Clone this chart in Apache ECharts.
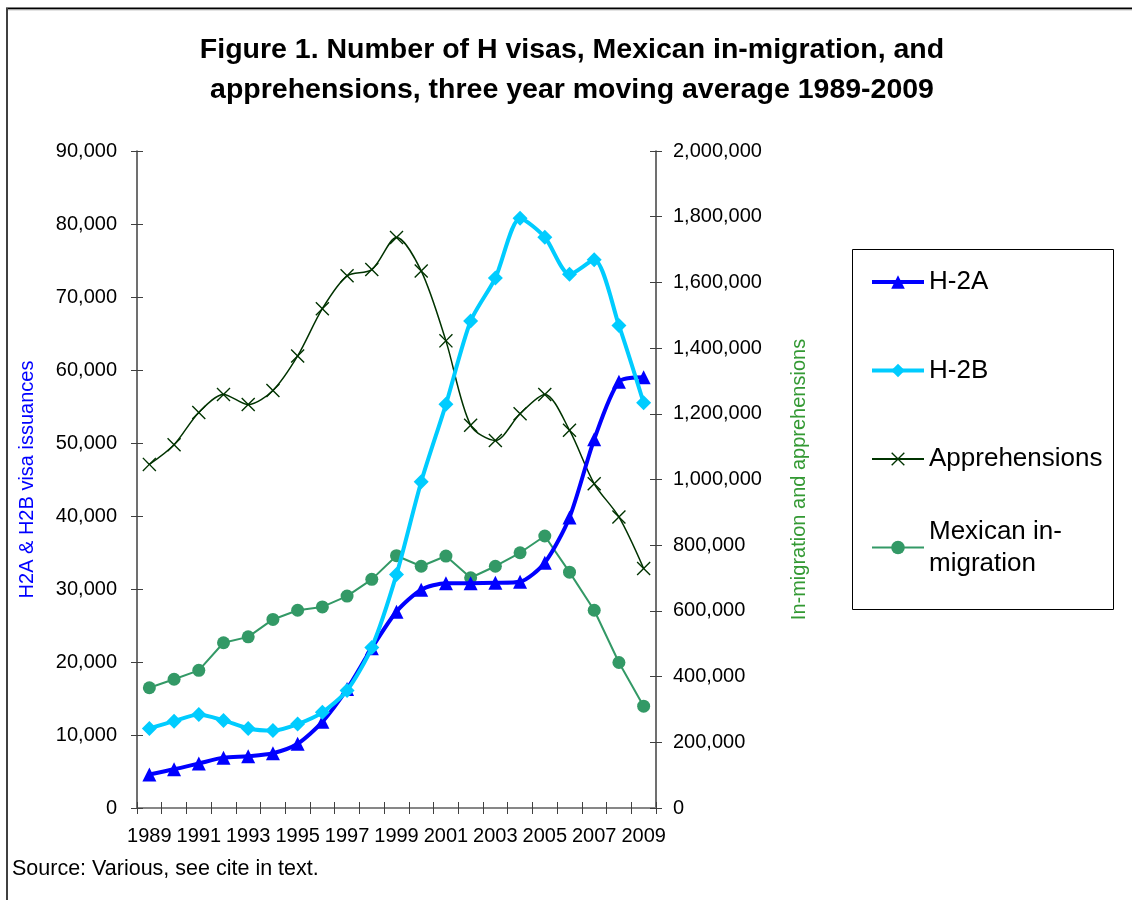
<!DOCTYPE html>
<html>
<head>
<meta charset="utf-8">
<script src="https://cdn.jsdelivr.net/npm/echarts@6/dist/echarts.min.js"></script>
<style>html,body{margin:0;padding:0;background:#fff}#c{width:1132px;height:900px}</style>
</head>
<body>
<div id="c"></div>
<script>
const years = ['1989','1990','1991','1992','1993','1994','1995','1996','1997','1998','1999','2000','2001','2002','2003','2004','2005','2006','2007','2008','2009'];
const h2a = [4600, 5300, 6100, 6900, 7100, 7500, 8800, 11800, 16300, 21900, 26900, 29900, 30800, 30800, 30850, 31000, 33600, 39800, 50500, 58400, 59000];
const h2b = [10900, 11900, 12800, 12000, 10900, 10600, 11500, 13100, 16100, 22000, 32000, 44700, 55300, 66700, 72600, 80800, 78200, 73100, 75100, 66100, 55500];
const apprehensions = [1046000, 1106000, 1204000, 1259000, 1228000, 1271000, 1376000, 1520000, 1620000, 1639000, 1737000, 1635000, 1422000, 1165000, 1119000, 1200000, 1259000, 1150000, 987000, 886000, 729000];
const mexican = [366000, 392000, 419000, 503000, 521000, 574000, 602000, 612000, 645000, 696000, 768000, 736000, 767000, 701000, 736000, 777000, 828000, 718000, 602000, 443000, 310000];
const titleLines = ['Figure 1. Number of H visas, Mexican in-migration, and', 'apprehensions, three year moving average 1989-2009'];

const FONT = "'Liberation Sans', Arial, sans-serif";
const xPath = 'path://M0,7L7,0L50,43L93,0L100,7L57,50L100,93L93,100L50,57L7,100L0,93L43,50Z';
const fmt = v => v.toLocaleString('en-US');

const chart = echarts.init(document.getElementById('c'), null, {renderer: 'canvas'});
const axisLineStyle = {color: '#404040', width: 1.5};
chart.setOption({
  animation: false,
  backgroundColor: '#fff',
  textStyle: {fontFamily: FONT},
  title: {
    text: titleLines.join('\n'),
    left: 572, top: 30, padding: 0, textAlign: 'center',
    textStyle: {fontSize: 28.5, fontWeight: 'bold', color: '#000', lineHeight: 40, fontFamily: FONT}
  },
  legend: {
    orient: 'vertical', left: 870, top: 234, padding: 0, itemGap: -7.5,
    itemWidth: 52, itemHeight: 17, selectedMode: false,
    textStyle: {fontSize: 26, color: '#000', lineHeight: 32, padding: [32, 0, 32, 0], fontFamily: FONT},
    data: [
      {name: 'H-2A', lineStyle: {width: 4}},
      {name: 'H-2B', lineStyle: {width: 4}},
      {name: 'Apprehensions', lineStyle: {width: 2}},
      {name: 'Mexican in-\nmigration', lineStyle: {width: 2}, textStyle: {padding: [32, 0, 0, 0], lineHeight: 32, fontSize: 26}}
    ]
  },
  grid: {left: 137, right: 476, top: 151, bottom: 92, containLabel: false},
  xAxis: [
    {type: 'category', data: years, boundaryGap: true, position: 'bottom',
     axisLine: {show: true, lineStyle: axisLineStyle},
     axisTick: {show: true, interval: 0, length: 6, lineStyle: {color: '#404040'}},
     axisLabel: {interval: 1, fontSize: 20, color: '#000', margin: 18, fontFamily: FONT}},
    {type: 'category', data: years, boundaryGap: true, position: 'bottom',
     axisLine: {show: false},
     axisTick: {show: true, inside: true, interval: 0, length: 6, lineStyle: {color: '#404040'}},
     axisLabel: {show: false}},
    {type: 'category', data: years, boundaryGap: true, position: 'top',
     axisLine: {show: true, lineStyle: {color: '#909090', width: 1.5}},
     axisTick: {show: false}, axisLabel: {show: false}}
  ],
  yAxis: [
    {type: 'value', position: 'left', min: 0, max: 90000, interval: 10000,
     name: 'H2A & H2B visa issuances', nameLocation: 'middle', nameGap: 100, nameRotate: 90,
     nameTextStyle: {color: '#0000FF', fontSize: 20, fontFamily: FONT},
     axisLine: {show: true, lineStyle: axisLineStyle},
     axisTick: {show: true, length: 6, lineStyle: {color: '#404040'}},
     axisLabel: {formatter: fmt, fontSize: 20, color: '#000', margin: 20, fontFamily: FONT},
     splitLine: {show: false}},
    {type: 'value', position: 'right', min: 0, max: 2000000, interval: 200000,
     name: 'In-migration and apprehensions', nameLocation: 'middle', nameGap: 133, nameRotate: 90,
     nameTextStyle: {color: '#339933', fontSize: 20, fontFamily: FONT},
     axisLine: {show: true, lineStyle: axisLineStyle},
     axisTick: {show: true, length: 6, lineStyle: {color: '#404040'}},
     axisLabel: {formatter: fmt, fontSize: 20, color: '#000', margin: 17, fontFamily: FONT},
     splitLine: {show: false}},
    {type: 'value', position: 'left', min: 0, max: 90000, interval: 10000,
     axisLine: {show: false}, axisTick: {show: true, inside: true, length: 6, lineStyle: {color: '#404040'}},
     axisLabel: {show: false}, splitLine: {show: false}},
    {type: 'value', position: 'right', min: 0, max: 2000000, interval: 200000,
     axisLine: {show: false}, axisTick: {show: true, inside: true, length: 6, lineStyle: {color: '#404040'}},
     axisLabel: {show: false}, splitLine: {show: false}}
  ],
  series: [
    {name: 'Apprehensions', type: 'line', yAxisIndex: 1, data: apprehensions, smooth: 0.3,
     symbol: xPath, symbolSize: 14, color: '#003300',
     itemStyle: {color: '#003300'}, lineStyle: {color: '#003300', width: 1.5}, z: 2},
    {name: 'Mexican in-\nmigration', type: 'line', yAxisIndex: 1, data: mexican,
     symbol: 'circle', symbolSize: 13, color: '#339966',
     itemStyle: {color: '#339966'}, lineStyle: {color: '#339966', width: 2}, z: 3},
    {name: 'H-2A', type: 'line', yAxisIndex: 0, data: h2a, smooth: 0.25,
     symbol: 'triangle', symbolSize: 14, color: '#0000FF',
     itemStyle: {color: '#0000FF'}, lineStyle: {color: '#0000FF', width: 4}, z: 4},
    {name: 'H-2B', type: 'line', yAxisIndex: 0, data: h2b, smooth: 0.25,
     symbol: 'diamond', symbolSize: 15, color: '#00CCFF',
     itemStyle: {color: '#00CCFF'}, lineStyle: {color: '#00CCFF', width: 4}, z: 5}
  ],
  graphic: [
    {type: 'line', shape: {x1: 6, y1: 8.5, x2: 1132, y2: 8.5}, style: {stroke: '#000', lineWidth: 2}},
    {type: 'line', shape: {x1: 8, y1: 10, x2: 1132, y2: 10}, style: {stroke: '#c8c8c8', lineWidth: 1}},
    {type: 'line', shape: {x1: 7, y1: 8, x2: 7, y2: 900}, style: {stroke: '#404040', lineWidth: 2}},
    {type: 'rect', shape: {x: 852.5, y: 249.5, width: 261, height: 360}, style: {fill: 'none', stroke: '#000', lineWidth: 1}},
    {type: 'text', left: 12, top: 858, style: {text: 'Source: Various, see cite in text.', fontSize: 21.5, fill: '#000', fontFamily: FONT}}
  ]
});
</script>
</body>
</html>
